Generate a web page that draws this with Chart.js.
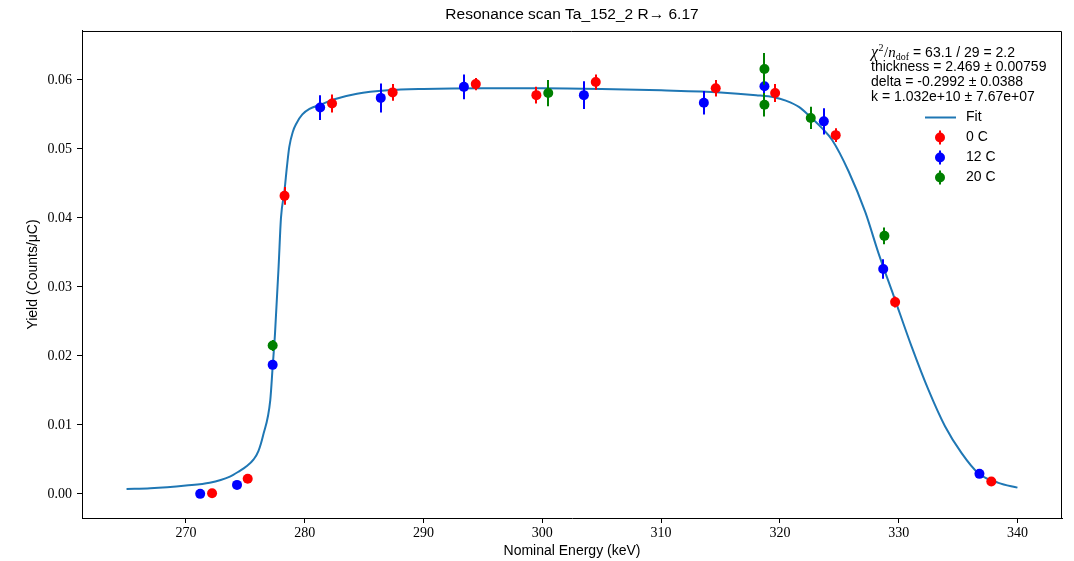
<!DOCTYPE html>
<html lang="en">
<head>
  <meta charset="UTF-8" />
  <title>Resonance scan</title>
  <script src="https://cdn.jsdelivr.net/npm/chart.js"></script>
  <style>
    body { margin: 0; background: white; }
    .wrap { width: 1074px; height: 561px; position: relative; }
  </style>
</head>
<body>
  <div class="wrap"><canvas id="scan"></canvas></div>

  <script>
    // measured yields per temperature (energy in keV, yield in counts/uC)
    const energy0 = [272.2, 275.2, 278.3, 282.3, 287.4, 294.4, 299.5, 304.5, 314.6, 319.6, 324.7, 329.7, 337.8];
    const yield0  = [0.0001, 0.0022, 0.0432, 0.0566, 0.0582, 0.0594, 0.0578, 0.0597, 0.0588, 0.0581, 0.0520, 0.0278, 0.0018];
    const err0    = [0.0002, 0.0003, 0.0013, 0.0013, 0.0012, 0.0009, 0.0012, 0.0011, 0.0012, 0.0013, 0.0010, 0.0008, 0.0003];

    const energy12 = [271.2, 274.3, 277.3, 281.3, 286.4, 293.4, 303.5, 313.6, 318.7, 323.7, 328.7, 336.8];
    const yield12  = [0.0000, 0.0013, 0.0187, 0.0560, 0.0574, 0.0590, 0.0578, 0.0567, 0.0591, 0.0540, 0.0326, 0.0029];
    const err12    = [0.0002, 0.0003, 0.0006, 0.0018, 0.0021, 0.0018, 0.0020, 0.0017, 0.0015, 0.0019, 0.0014, 0.0003];

    const energy20 = [277.3, 300.5, 318.7, 318.7, 322.6, 328.8];
    const yield20  = [0.0215, 0.0581, 0.0616, 0.0564, 0.0545, 0.0374];
    const err20    = [0.0008, 0.0019, 0.0023, 0.0017, 0.0016, 0.0012];

    // fitted curve
    const fitE = [265, 267, 270, 272, 273.7, 274.5, 275.1, 275.7, 276.1, 276.5, 277.1, 277.3, 277.5, 277.8, 278.0,
                  278.3, 278.5, 278.7, 279.0, 279.3, 279.8, 280.4, 281.3, 282.5, 284.4, 287, 290, 295, 300, 305,
                  310, 315, 318, 319.5, 320.5, 321.6, 322.6, 323.5, 324.4, 325.8, 327.2, 328.3, 329.6, 331.1,
                  332.5, 333.9, 335.3, 336.7, 338.4, 340];
    const fitY = [0.0007, 0.0008, 0.0012, 0.0016, 0.0025, 0.0033, 0.0040, 0.0050, 0.0062, 0.0085, 0.0136, 0.0184, 0.0233, 0.0329, 0.0400,
                  0.0440, 0.0474, 0.0503, 0.0525, 0.0537, 0.0550, 0.0558, 0.0564, 0.0572, 0.0580, 0.0585, 0.0587, 0.0588, 0.0588, 0.0587,
                  0.0585, 0.0582, 0.0578, 0.0575, 0.0570, 0.0561, 0.0546, 0.0531, 0.0513, 0.0467, 0.0408, 0.0349, 0.0286, 0.0213,
                  0.0151, 0.0098, 0.0059, 0.0030, 0.0016, 0.0009];

    const xTicks = [270, 280, 290, 300, 310, 320, 330, 340];
    const yTicks = [0.00, 0.01, 0.02, 0.03, 0.04, 0.05, 0.06];

    const seriesLabels = ['Fit', '0 C', '12 C', '20 C'];
    const seriesColors = ['#1f77b4', '#ff0000', '#0000ff', '#008000'];
    const fitStats = ['63.1 / 29 = 2.2', 'thickness = 2.469 \u00b1 0.00759', 'delta = -0.2992 \u00b1 0.0388', 'k = 1.032e+10 \u00b1 7.67e+07'];

    const SANS = '"Liberation Sans", Arial, sans-serif';
    const SERIF = '"Liberation Serif", "Times New Roman", serif';

    const pts = (xs, ys) => xs.map((x, i) => ({ x, y: ys[i] }));

    // vertical error bars, drawn just before each dataset's markers
    const errorBars = {
      id: 'errorBars',
      beforeDatasetDraw(chart, args) {
        const ds = chart.data.datasets[args.index];
        if (!ds.errors) return;
        const { ctx, scales: { x, y } } = chart;
        ctx.save();
        ctx.strokeStyle = ds.backgroundColor;
        ctx.lineWidth = 2;
        ds.data.forEach((p, i) => {
          const px = Math.round(x.getPixelForValue(p.x));
          ctx.beginPath();
          ctx.moveTo(px, y.getPixelForValue(p.y - ds.errors[i]));
          ctx.lineTo(px, y.getPixelForValue(p.y + ds.errors[i]));
          ctx.stroke();
        });
        ctx.restore();
      }
    };

    // top and right spines
    const frame = {
      id: 'frame',
      afterDraw(chart) {
        const { ctx, chartArea: a } = chart;
        ctx.save();
        ctx.strokeStyle = '#000';
        ctx.lineWidth = 1;
        ctx.beginPath();
        ctx.moveTo(a.left, a.top + 0.5);
        ctx.lineTo(a.right - 0.5, a.top + 0.5);
        ctx.lineTo(a.right - 0.5, a.bottom);
        ctx.stroke();
        ctx.restore();
      }
    };

    // fit summary + legend in the upper right corner
    const statsLegend = {
      id: 'statsLegend',
      afterDraw(chart) {
        const { ctx, chartArea: a } = chart;
        const x0 = a.right - 191;
        ctx.save();
        ctx.fillStyle = '#000';
        ctx.textBaseline = 'middle';

        // chi^2 / n_dof line
        let y = a.top + 22;
        let cx = x0;
        ctx.font = 'italic 16px ' + SERIF;
        ctx.fillText('\u03c7', cx, y); cx += ctx.measureText('\u03c7').width;
        ctx.font = '10px ' + SERIF;
        ctx.fillText('2', cx + 0.5, y - 5); cx += ctx.measureText('2').width + 1;
        ctx.font = '15px ' + SERIF;
        ctx.fillText('/', cx, y); cx += ctx.measureText('/').width;
        ctx.font = 'italic 15px ' + SERIF;
        ctx.fillText('n', cx, y); cx += ctx.measureText('n').width;
        ctx.font = '10px ' + SERIF;
        ctx.fillText('dof', cx, y + 4); cx += ctx.measureText('dof').width + 4;
        ctx.font = '14px ' + SANS;
        ctx.fillText('= ' + fitStats[0], cx, y);

        for (let i = 1; i < fitStats.length; i++) {
          ctx.fillText(fitStats[i], x0, a.top + 22 + i * 14.6);
        }

        // legend entries
        const hx = x0 + 54, lx = x0 + 95;
        seriesLabels.forEach((lab, i) => {
          const ly = a.top + 86.5 + i * 20;
          ctx.strokeStyle = seriesColors[i];
          ctx.fillStyle = seriesColors[i];
          ctx.lineWidth = 2;
          if (i === 0) {
            ctx.beginPath();
            ctx.moveTo(hx, ly); ctx.lineTo(hx + 31, ly);
            ctx.stroke();
          } else {
            const mx = hx + 15;
            ctx.beginPath();
            ctx.moveTo(mx, ly - 7); ctx.lineTo(mx, ly + 7);
            ctx.stroke();
            ctx.beginPath();
            ctx.arc(mx, ly, 5, 0, Math.PI * 2);
            ctx.fill();
          }
          ctx.fillStyle = '#000';
          ctx.fillText(lab, lx, ly);
        });
        ctx.restore();
      }
    };

    const pointSet = (label, xs, ys, errs, color, order) => ({
      type: 'scatter',
      label,
      data: pts(xs, ys),
      errors: errs,
      backgroundColor: color,
      borderColor: color,
      pointRadius: 5,
      pointBorderWidth: 0,
      pointHoverRadius: 5,
      showLine: false,
      order
    });

    new Chart(document.getElementById('scan'), {
      type: 'scatter',
      data: {
        datasets: [
          {
            type: 'line',
            label: seriesLabels[0],
            data: pts(fitE, fitY),
            borderColor: seriesColors[0],
            borderWidth: 2,
            pointRadius: 0,
            cubicInterpolationMode: 'monotone',
            fill: false,
            order: 4
          },
          pointSet(seriesLabels[1], energy0, yield0, err0, seriesColors[1], 3),
          pointSet(seriesLabels[2], energy12, yield12, err12, seriesColors[2], 2),
          pointSet(seriesLabels[3], energy20, yield20, err20, seriesColors[3], 1)
        ]
      },
      options: {
        responsive: true,
        maintainAspectRatio: false,
        animation: false,
        layout: { padding: { top: 0, right: 12, bottom: 0, left: 0 } },
        plugins: {
          legend: { display: false },
          tooltip: { enabled: false },
          title: {
            display: true,
            fullSize: false,
            text: 'Resonance scan Ta_152_2 R\u2192 6.17',
            color: '#000',
            font: { family: SANS, size: 15.5, weight: 'normal', lineHeight: 1.29 },
            padding: { top: 5, bottom: 6 }
          }
        },
        scales: {
          x: {
            type: 'linear',
            min: 261.25,
            max: 343.75,
            afterBuildTicks: s => { s.ticks = xTicks.map(v => ({ value: v })); },
            afterFit: s => { s.height = 43; },
            ticks: {
              color: '#000',
              font: { family: SERIF, size: 14 },
              padding: 2,
              maxRotation: 0,
              callback: v => String(v)
            },
            grid: { drawOnChartArea: false, drawTicks: true, tickLength: 5, color: '#000' },
            border: { display: true, color: '#000', width: 1 },
            title: {
              display: true,
              text: 'Nominal Energy (keV)',
              color: '#000',
              font: { family: SANS, size: 14 },
              padding: { top: 0, bottom: 1 }
            }
          },
          y: {
            type: 'linear',
            min: -0.0035,
            max: 0.0671,
            afterBuildTicks: s => { s.ticks = yTicks.map(v => ({ value: v })); },
            afterFit: s => { s.width = 82; },
            ticks: {
              color: '#000',
              font: { family: SERIF, size: 14 },
              padding: 5,
              callback: v => v.toFixed(2)
            },
            grid: { drawOnChartArea: false, drawTicks: true, tickLength: 5, color: '#000' },
            border: { display: true, color: '#000', width: 1 },
            title: {
              display: true,
              text: 'Yield (Counts/\u03bcC)',
              color: '#000',
              font: { family: SANS, size: 14 },
              padding: { top: 25, bottom: 0 }
            }
          }
        }
      },
      plugins: [errorBars, frame, statsLegend]
    });
  </script>
</body>
</html>
